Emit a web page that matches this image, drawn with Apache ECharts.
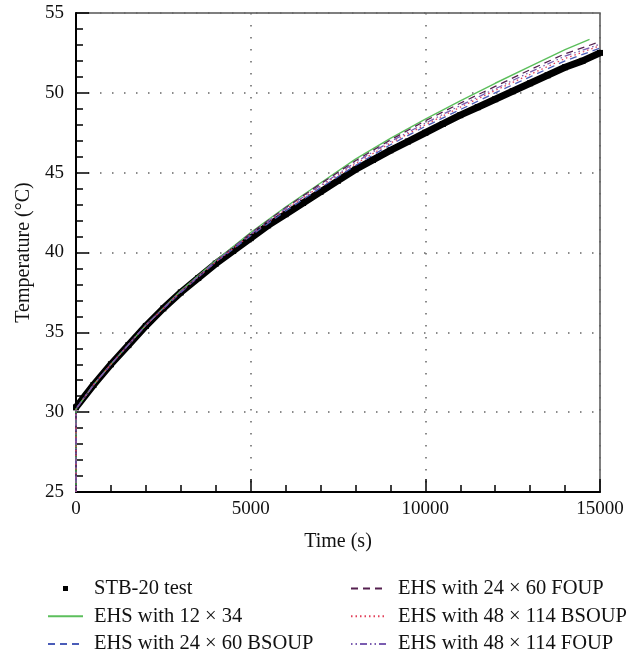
<!DOCTYPE html>
<html><head><meta charset="utf-8">
<script src="https://cdn.jsdelivr.net/npm/echarts@6/dist/echarts.min.js"></script>
<style>html,body{margin:0;padding:0;background:#fff}#c{width:640px;height:654px}</style>
</head><body><div id="c"></div>
<script>
// ---- data ----
const testTime = [0,500,1000,1500,2000,2500,3000,3500,4000,4500,5000,5500,6000,6500,7000,7500,8000,8500,9000,9500,10000,10500,11000,11500,12000,12500,13000,13500,14000,14500,15000];
const testTemp = [30.3,31.7,33.0,34.2,35.4,36.5,37.5,38.4,39.3,40.1,40.9,41.7,42.4,43.1,43.8,44.5,45.2,45.8,46.4,46.95,47.5,48.05,48.6,49.1,49.6,50.1,50.6,51.1,51.6,52.0,52.5];

const simTime      = [0,0,500,1000,2000,3000,4000,5000,6000,7000,8000,9000,10000,11000,12000,13000,14000,15000];
const simTimeGreen = [0,0,500,1000,2000,3000,4000,5000,6000,7000,8000,9000,10000,11000,12000,13000,14000,14700];
const ehs12x34      = [25,30.2,31.7,33.0,35.45,37.6,39.5,41.25,42.85,44.35,45.85,47.15,48.35,49.5,50.6,51.65,52.7,53.35];
const ehs24x60BSOUP = [25,30.2,31.7,33.0,35.45,37.5,39.4,41.05,42.6,44.05,45.45,46.75,47.9,48.95,50.0,51.0,52.0,52.8];
const ehs24x60FOUP  = [25,30.2,31.7,33.0,35.45,37.55,39.45,41.2,42.8,44.3,45.75,47.05,48.25,49.35,50.4,51.45,52.45,53.2];
const ehs48x114BSOUP= [25,30.2,31.7,33.0,35.45,37.55,39.4,41.1,42.7,44.15,45.55,46.85,48.0,49.1,50.15,51.15,52.15,52.95];
const ehs48x114FOUP = [25,30.2,31.7,33.0,35.45,37.55,39.45,41.15,42.75,44.2,45.65,46.95,48.1,49.2,50.25,51.3,52.3,53.05];

const seriesNames = ['STB-20 test','EHS with 12 × 34','EHS with 24 × 60 BSOUP','EHS with 24 × 60 FOUP','EHS with 48 × 114 BSOUP','EHS with 48 × 114 FOUP'];
const yTicks = [25,30,35,40,45,50,55];
const xTicks = [0,5000,10000,15000];

// ---- chart ----
const FONT = '"Liberation Serif", "Times New Roman", serif';
function zip(t, v) { return t.map((x, i) => [x, v[i]]); }
function simSeries(name, t, v, color, type, width) {
  return {
    name, type: 'line', data: zip(t, v), symbol: 'none', showSymbol: false, z: 3,
    lineStyle: { color, width: width || 1.3, type },
    itemStyle: { color },
    emphasis: { disabled: true }
  };
}
function lineItem(name) {
  return { name, itemStyle: { color: 'rgba(0,0,0,0)', borderWidth: 0, opacity: 0 } };
}
const chart = echarts.init(document.getElementById('c'), null, { renderer: 'canvas' });
const legendText = { fontFamily: FONT, fontSize: 20.5, color: '#111', lineHeight: 20 };
const tickFmt = v => String(v);
chart.setOption({
  animation: false,
  backgroundColor: '#fff',
  grid: { left: 76, right: 40, top: 13, bottom: 162, containLabel: false, outerBoundsMode: 'none',
          show: true, borderColor: '#555', borderWidth: 1.5, backgroundColor: 'transparent' },
  xAxis: {
    type: 'value', min: xTicks[0], max: xTicks[xTicks.length - 1], interval: 5000,
    name: 'Time (s)', nameLocation: 'middle', nameGap: 40,
    nameTextStyle: { fontFamily: FONT, fontSize: 20, color: '#111' },
    axisLine: { show: true, lineStyle: { color: '#000', width: 2 } },
    axisTick: { show: true, inside: true, length: 13, lineStyle: { color: '#000', width: 1.5 } },
    minorTick: { show: true, splitNumber: 5, length: 7, lineStyle: { color: '#000', width: 1.5 } },
    axisLabel: { fontFamily: FONT, fontSize: 19, color: '#111', margin: 8, formatter: tickFmt },
    splitLine: { show: true, lineStyle: { color: '#666', width: 1.5, type: [1.5, 10.5] } }
  },
  yAxis: {
    type: 'value', min: yTicks[0], max: yTicks[yTicks.length - 1], interval: 5,
    name: 'Temperature (°C)', nameLocation: 'middle', nameGap: 36,
    nameTextStyle: { fontFamily: FONT, fontSize: 20, color: '#111' },
    axisLine: { show: true, lineStyle: { color: '#000', width: 2 } },
    axisTick: { show: true, inside: true, length: 13, lineStyle: { color: '#000', width: 1.5 } },
    minorTick: { show: true, splitNumber: 5, length: 7, lineStyle: { color: '#000', width: 1.5 } },
    axisLabel: { fontFamily: FONT, fontSize: 19, color: '#111', margin: 12, formatter: tickFmt },
    splitLine: { show: true, lineStyle: { color: '#666', width: 1.5, type: [1.5, 10.5] } }
  },
  legend: [
    { orient: 'vertical', left: 47, top: 578, height: 80, padding: 0, itemWidth: 35, itemHeight: 14, itemGap: 6.8,
      selectedMode: false, textStyle: Object.assign({ padding: [0, 0, 0, 6] }, legendText),
      data: [
        { name: seriesNames[0], icon: 'path://M0,0M35,14M15,4.5h5v5h-5z', itemStyle: { borderWidth: 0 } },
        lineItem(seriesNames[1]), lineItem(seriesNames[2])
      ] },
    { orient: 'vertical', left: 350, top: 578, height: 80, padding: 0, itemWidth: 35, itemHeight: 14, itemGap: 6.8,
      selectedMode: false, textStyle: Object.assign({ padding: [0, 0, 0, 7] }, legendText),
      data: [lineItem(seriesNames[3]), lineItem(seriesNames[4]), lineItem(seriesNames[5])] }
  ],
  series: [
    { name: seriesNames[0], type: 'line', data: zip(testTime, testTemp), z: 2,
      symbol: 'rect', symbolSize: 6, showSymbol: true,
      lineStyle: { color: '#000', width: 7 }, itemStyle: { color: '#000', borderWidth: 0 },
      emphasis: { disabled: true } },
    simSeries(seriesNames[1], simTimeGreen, ehs12x34, '#5cbf5c', 'solid', 1.4),
    simSeries(seriesNames[2], simTime, ehs24x60BSOUP, '#4a5cb8', [7, 5]),
    simSeries(seriesNames[3], simTime, ehs24x60FOUP, '#55204f', [7, 5]),
    simSeries(seriesNames[4], simTime, ehs48x114BSOUP, '#e2405a', [1.5, 3]),
    simSeries(seriesNames[5], simTime, ehs48x114FOUP, '#7a5cb0', [1.5, 3, 1.5, 3, 7, 3])
  ]
});
</script>
</body></html>
